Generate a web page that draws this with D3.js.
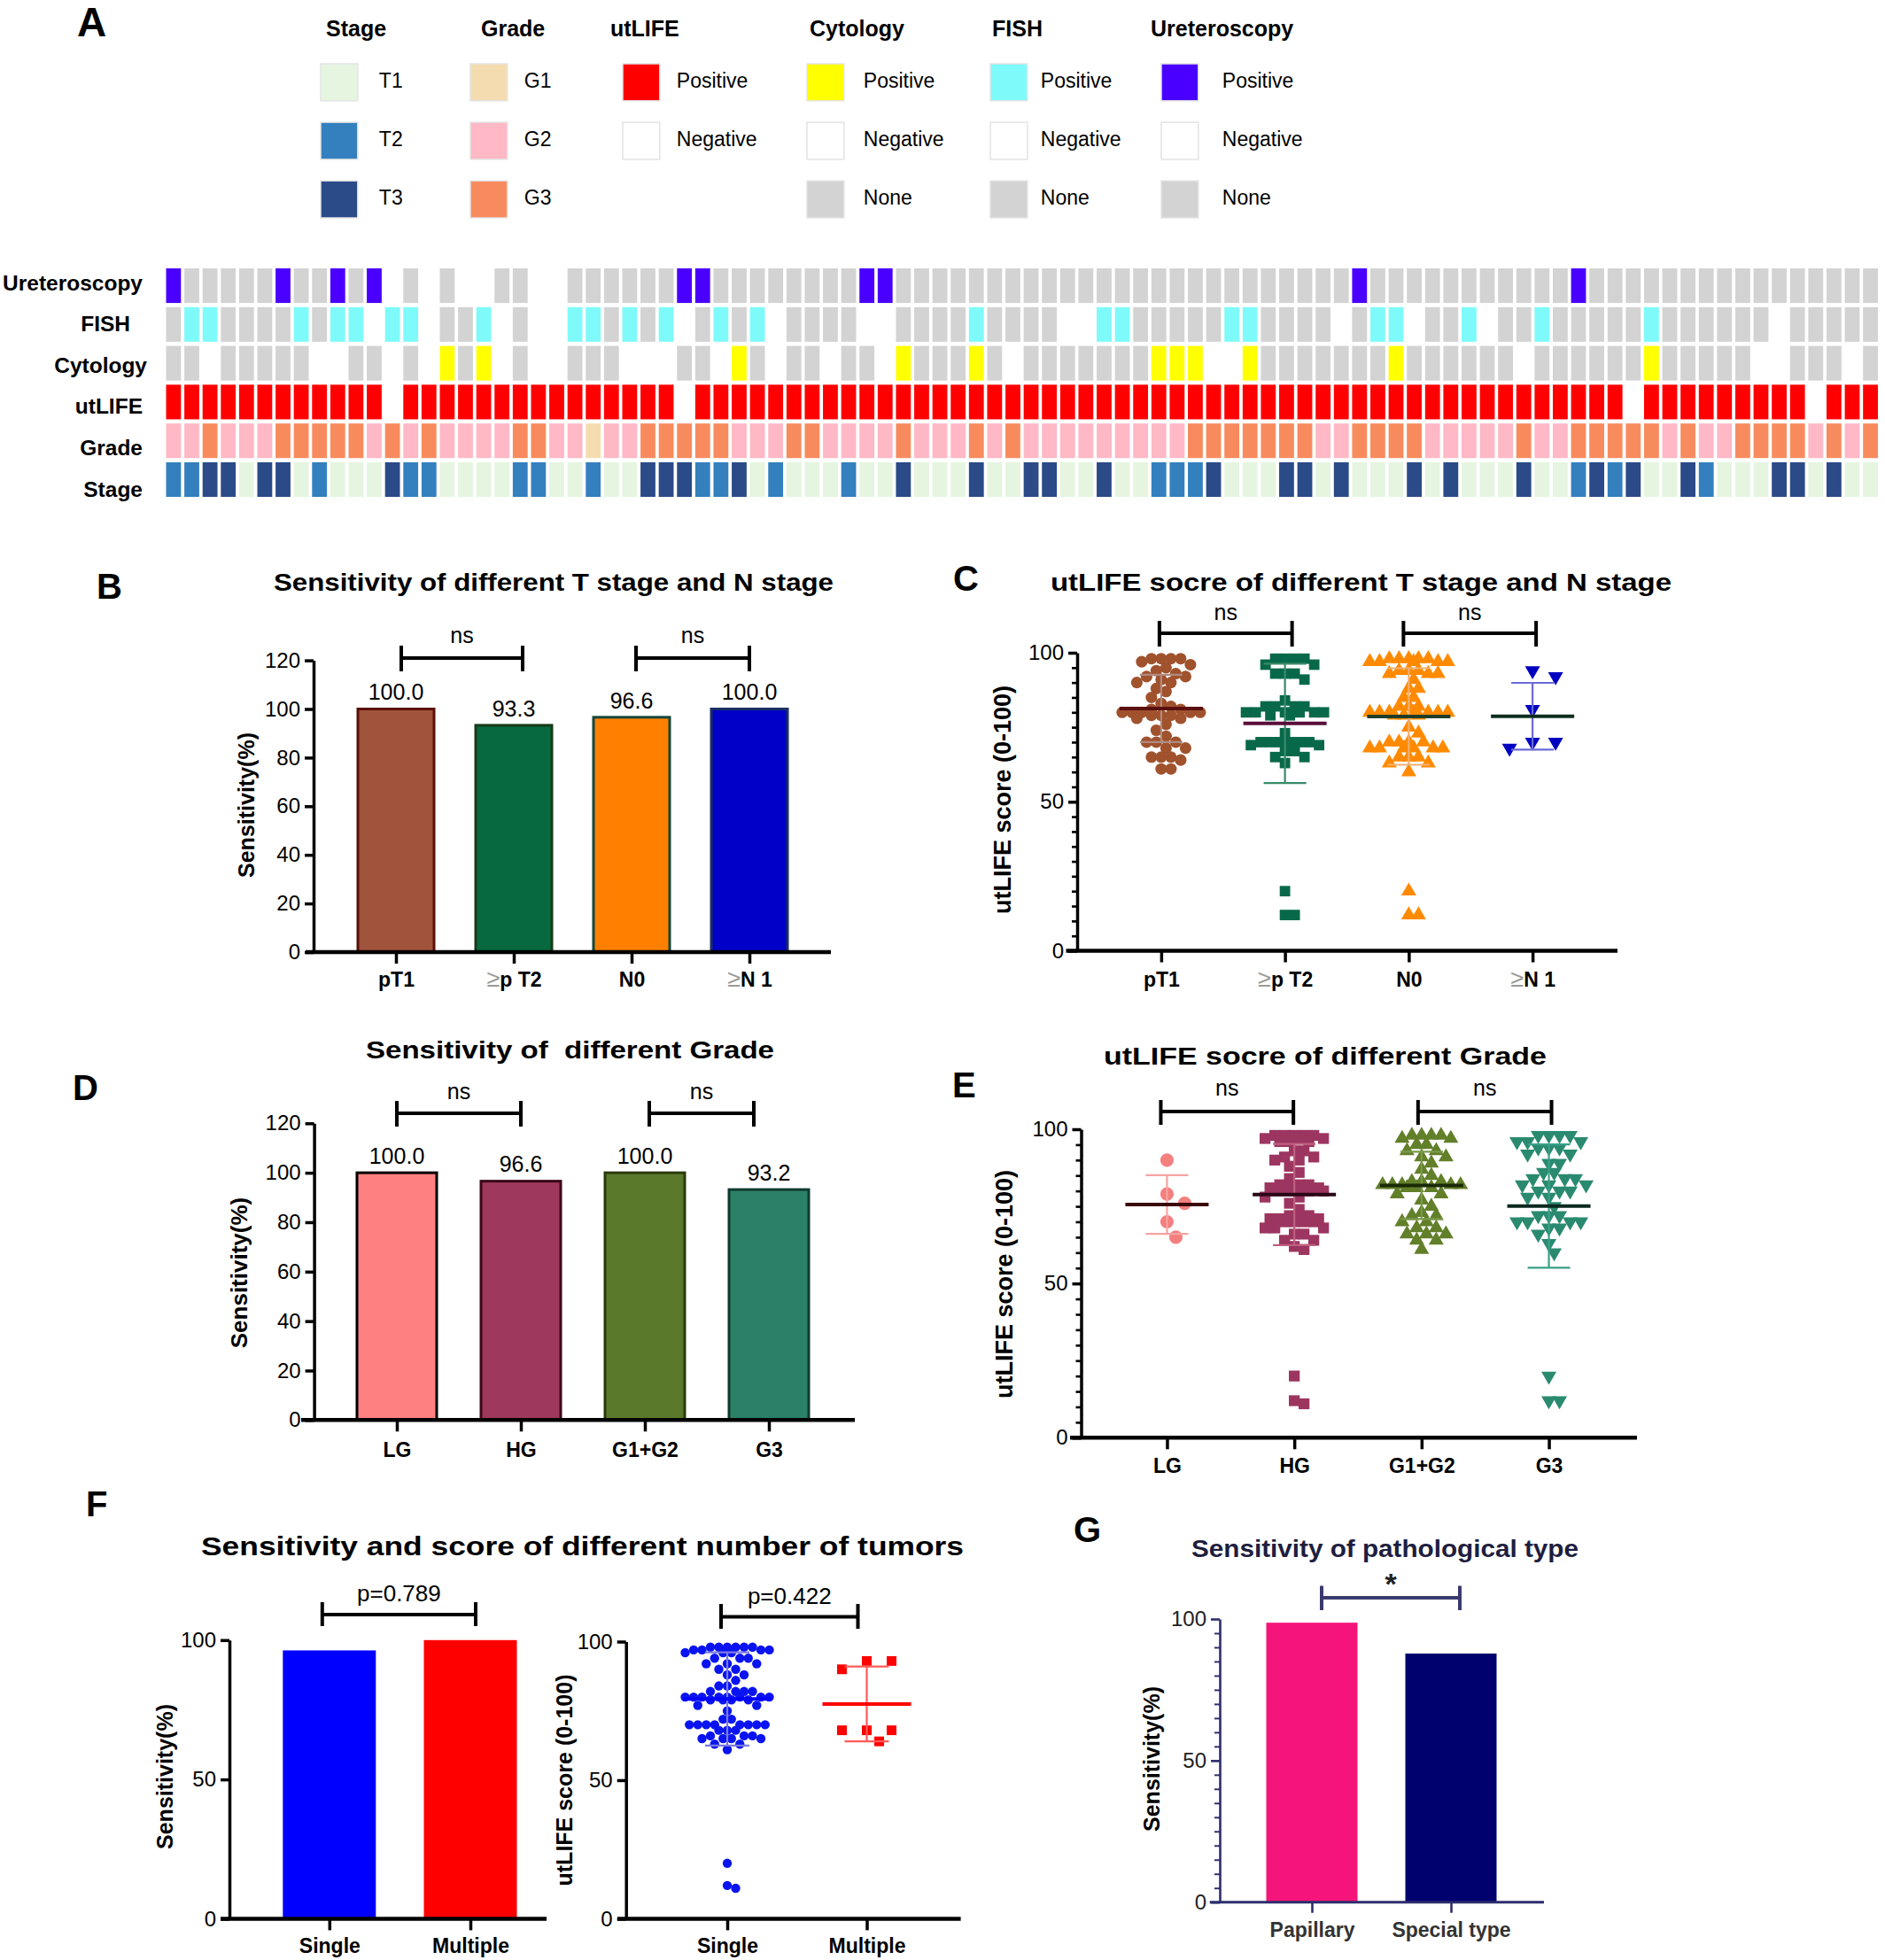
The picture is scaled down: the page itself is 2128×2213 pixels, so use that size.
<!DOCTYPE html>
<html><head><meta charset="utf-8">
<script src="https://cdn.jsdelivr.net/npm/d3@7"></script>
<style>
body{margin:0;background:#fff}
svg text{font-family:"Liberation Sans",Arial,Helvetica,sans-serif}
</style></head><body>
<svg id="chart" width="2128" height="2213"></svg>
<script>
// ================= DATA =================
// Panel A heatmap (94 patients). Codes: P positive, N negative, X none; 1/2/3 = T1..T3 / G1..G3
const heatRows = ["Ureteroscopy","FISH","Cytology","utLIFE","Grade","Stage"];
const ureteroscopyRow = "PXXXXXPXXP"+"XPNXNXNNXX"+"NNXXXXXXPP"+"XXXXXXXXPP"+"XXXXXXXXXX"+"XXXXXXXXXX"+"XXXXXPXXXX"+"XXXXXXXPXX"+"XXXXXXXXXX"+"XXXX";
const fishRow         = "XPPXXXXPXP"+"PNPPNXXPNX"+"NNPPXPXPNX"+"PXPNXXXXNN"+"XXXXPXXXXN"+"NPPXXXXXPP"+"XXXXNXPPNX"+"XPNXXPXXXX"+"XPXXXXXXNX"+"XXXX";
const cytologyRow     = "XXNXXXXXNN"+"XXNXNPXPNX"+"NNXXXNNNXX"+"NPXNXXNXXN"+"PXXXPXNXXX"+"XXXXPPPNNP"+"XXXXXXXPXX"+"XXXXNXXXXX"+"XPXXXXXNNX"+"XXNX";
const utlifeRow       = "PPPPPPPPPP"+"PPNPPPPPPP"+"PPPPPPPPNP"+"PPPPPPPPPP"+"PPPPPPPPPP"+"PPPPPPPPPP"+"PPPPPPPPPP"+"PPPPPPPPPP"+"NPPPPPPPPP"+"NPPP";
const gradeRow        = "2232223333"+"3232322223"+"3221223333"+"3222332222"+"3222323222"+"2222223333"+"3332233332"+"2222322333"+"3323223333"+"2323";
const stageRow        = "2233133121"+"1132211112"+"2112113332"+"2312111211"+"3111311331"+"1311222311"+"1331311131"+"3111311232"+"3113211133"+"1311";

const legendGroups = ["Stage","Grade","utLIFE","Cytology","FISH","Ureteroscopy"];
const legendLabels = [["T1","T2","T3"],["G1","G2","G3"],["Positive","Negative"],["Positive","Negative","None"],["Positive","Negative","None"],["Positive","Negative","None"]];
const legendCodes  = [["1","2","3"],["1","2","3"],["P","N"],["P","N","X"],["P","N","X"],["P","N","X"]];

// Panel B
const B_cats = ["pT1","≥p T2","N0","≥N 1"];
const B_sens = [100.0, 93.3, 96.6, 100.0];
// Panel C (utLIFE scores)
const C_cats = ["pT1","≥p T2","N0","≥N 1"];
const C_pT1 = [98,98,98,98,97,96,95,94,93,92,92,91,90,90,88,87,85,83,82,81,81,80,80,80,80,80,79,79,79,78,78,76,74,72,70,70,70,68,68,65,65,65,64,61,61];
const C_pT2 = [98,98,98,98,96,96,93,93,93,91,84,82,82,82,82,80,80,80,80,80,80,79,79,73,70,70,70,70,70,70,69,69,67,67,65,65,63,20,12,12];
const C_N0  = [98,98,98,98,98,97,97,97,97,97,94,94,94,93,93,93,91,88,88,85,85,82,82,82,80,80,80,80,80,80,80,79,79,79,75,73,70,70,70,70,68,68,68,68,68,68,65,65,65,63,63,60,20,12,12];
const C_N1  = [94,92,81,70,70,68];
const C_mean = [81.3, 76.3, 78.6, 78.7];
const C_sd   = [11.3, 20.0, 16.2, 11.2];
// Panel D
const D_cats = ["LG","HG","G1+G2","G3"];
const D_sens = [100.0, 96.6, 100.0, 93.2];
// Panel E
const E_cats = ["LG","HG","G1+G2","G3"];
const E_LG  = [90,79,76,70,65];
const E_HG  = [98,98,98,98,98,97,97,97,96,96,96,93,93,91,91,90,90,88,86,84,82,82,82,81,81,81,81,80,80,80,80,80,78,78,76,74,72,72,71,71,71,71,70,70,70,70,68,68,68,66,66,64,64,62,61,20,12,11];
const E_G12 = [98,98,98,98,97,97,95,95,93,93,91,91,89,87,85,83,83,83,82,82,82,82,82,81,81,81,79,79,77,75,73,72,72,70,70,68,68,66,66,66,64,64,61];
const E_G3  = [98,98,98,98,96,96,96,94,94,94,92,92,89,89,86,86,84,84,84,82,82,82,80,80,80,78,78,75,72,72,72,70,70,70,70,68,68,66,63,60,20,12,12];
const E_mean = [75.6, 78.8, 81.8, 75.1];
const E_sd   = [9.5, 16.4, 10.9, 20.0];
// Panel F
const F_cats = ["Single","Multiple"];
const F_sens = [96.3, 100.0];
const F_single = [98,98,98,98,98,98,97,97,97,97,96,96,96,94,94,94,92,92,92,90,90,88,88,86,84,84,82,82,82,82,80,80,80,80,80,80,80,80,79,79,79,79,77,77,75,72,72,70,70,70,70,70,70,70,70,68,68,68,66,66,66,65,65,65,65,63,63,61,20,12,11];
const F_multi  = [93,93,90,68,68,68,64];
const F_mean = [79.3, 77.5];
const F_sd   = [16.8, 13.5];
// Panel G
const G_cats = ["Papillary","Special type"];
const G_sens = [98.7, 87.8];

// ================= DRAWING =================
const FONT = '"Liberation Sans", Arial, Helvetica, sans-serif';
const svg = d3.select("#chart");
svg.append("rect").attr("width",2128).attr("height",2213).attr("fill","#fff");

function txt(g, x, y, s, o={}) {
  const t = g.append("text").attr("x",x).attr("y",y).attr("dy","0.35em")
    .attr("text-anchor",o.anchor||"middle").attr("font-size",o.size||24)
    .attr("font-weight",o.weight||"normal").attr("fill",o.fill||"#000")
    .attr("font-family",FONT).style("white-space","pre").text(s);
  if (o.len) t.attr("textLength",o.len).attr("lengthAdjust","spacingAndGlyphs");
  if (o.rotate) t.attr("transform",`rotate(${o.rotate},${x},${y})`);
  return t;
}

function yAxis(g, y, x0, majors, minorStep, o={}) {
  const col = o.color||"#000", sw = o.sw||3.5;
  const ax = g.append("g").attr("transform",`translate(${x0},0)`)
    .call(d3.axisLeft(y).tickValues(majors).tickSize(o.tick||10).tickSizeOuter(0).tickPadding(o.pad||5).tickFormat(d3.format("d")));
  ax.select(".domain").attr("stroke",col).attr("stroke-width",sw);
  ax.selectAll(".tick line").attr("stroke",col).attr("stroke-width",sw);
  ax.selectAll(".tick text").attr("font-size",o.fs||24).attr("fill",o.tcol||"#000").attr("font-family",FONT);
  if (minorStep) {
    const [d0,d1] = y.domain();
    const minors = d3.range(d0, d1+1e-9, minorStep).filter(v=>!majors.includes(v));
    const mx = g.append("g").attr("transform",`translate(${x0},0)`)
      .call(d3.axisLeft(y).tickValues(minors).tickSize(o.minorTick||6).tickFormat(""));
    mx.select(".domain").remove();
    mx.selectAll(".tick line").attr("stroke",col).attr("stroke-width",sw*0.75);
  }
}

function xAxis(g, x, y0, x1, x2, labelDy, o={}) {
  const col = o.color||"#000", sw=o.sw||3.5;
  g.append("line").attr("x1",x1).attr("x2",x2).attr("y1",y0).attr("y2",y0)
    .attr("stroke",col).attr("stroke-width",o.lw||4.5);
  const ax = g.append("g").attr("transform",`translate(0,${y0})`)
    .call(d3.axisBottom(x).tickSize(o.tick||13).tickSizeOuter(0));
  ax.select(".domain").remove();
  ax.selectAll(".tick line").attr("stroke",col).attr("stroke-width",sw);
  ax.selectAll(".tick text").attr("y",labelDy).attr("dy","0.35em").attr("font-size",o.fs||23)
    .attr("font-weight",o.fw||"bold").attr("fill",o.tcol||"#000").attr("font-family",FONT)
    .each(function(d){
      if (d.startsWith("≥")) {
        const s = d3.select(this); s.text(null);
        s.append("tspan").attr("fill","#9a9a9a").attr("font-weight","normal").attr("font-size",(o.fs||23)+4).text("≥");
        s.append("tspan").text(d.slice(1));
      }
    });
}

function bracket(g, xa, xb, yl, yt, yb, label, ly, o={}) {
  const col=o.color||"#000";
  g.append("path").attr("d",`M${xa},${yt}V${yb}M${xa},${yl}H${xb}M${xb},${yt}V${yb}`)
    .attr("fill","none").attr("stroke",col).attr("stroke-width",o.sw||4);
  txt(g,(xa+xb)/2+(o.ldx||0),ly,label,{size:o.fs||25,fill:o.tcol||"#000",weight:o.fw||"normal"});
}

// column-scatter layout: spread equal-ish values sideways, capped at maxHalf
function swarm(values, y, cx, spacing, maxHalf) {
  const pts = values.map(v=>({v, y:y(v)})).sort((a,b)=>a.y-b.y);
  const placed = [];
  const h = spacing/2;
  const cands = [0];
  for (let k=1; k*h<=maxHalf; k++) cands.push(k*h, -k*h);
  for (const p of pts) {
    let best = null, bestD = -1;
    for (const dx of cands) {
      const x = cx+dx;
      let dmin = Infinity;
      for (const q of placed) { const d = Math.hypot(q.x-x, q.y-p.y); if (d<dmin) dmin=d; }
      if (dmin >= spacing) { best = x; break; }
      if (dmin > bestD + 0.5) { bestD = dmin; best = x; }
    }
    p.x = best;
    placed.push(p);
  }
  return placed;
}

function scatter(g, cats, groups, x, y, st, means, sds, o) {
  cats.forEach((c,i)=>{
    const s = st[i], cx = x(c);
    const pts = swarm(groups[i], y, cx, s.sp, s.max);
    const sym = d3.symbol().type(s.shape).size(s.area);
    g.append("g").selectAll("path").data(pts).join("path")
      .attr("d", sym)
      .attr("transform", d=>`translate(${d.x},${d.y})${s.down?" rotate(180)":""}`)
      .attr("fill", s.color);
    const m = means[i], sd = sds[i];
    g.append("path")
      .attr("d",`M${cx},${y(m+sd)}V${y(m-sd)}M${cx-o.cap},${y(m+sd)}H${cx+o.cap}M${cx-o.cap},${y(m-sd)}H${cx+o.cap}`)
      .attr("stroke",s.sd).attr("stroke-width",2.2).attr("fill","none");
    g.append("line").attr("x1",cx-o.half).attr("x2",cx+o.half).attr("y1",y(m)).attr("y2",y(m))
      .attr("stroke",s.mean).attr("stroke-width",4);
  });
}

// ---------- Panel letters ----------
[["A",87,25,46],["B",109,662,40],["C",1076,653,40],["D",82,1228,40],["E",1075,1225,40],["F",97,1698,40],["G",1212,1727,40]]
  .forEach(([l,x,y,s])=>txt(svg,x,y,l,{size:s,weight:"bold",anchor:"start"}));

// ---------- Panel A ----------
const gA = svg.append("g");
const rowCodes = {Ureteroscopy:ureteroscopyRow, FISH:fishRow, Cytology:cytologyRow, utLIFE:utlifeRow, Grade:gradeRow, Stage:stageRow};
const rowColors = {
  Stage:{"1":"#e5f5e0","2":"#3480bf","3":"#2b4a88"},
  Grade:{"1":"#f5dcb0","2":"#ffb8c5","3":"#f88b5e"},
  utLIFE:{"P":"#ff0000","N":"#ffffff"},
  Cytology:{"P":"#ffff00","N":"#ffffff","X":"#d3d3d3"},
  FISH:{"P":"#7ffafa","N":"#ffffff","X":"#d3d3d3"},
  Ureteroscopy:{"P":"#4a00ff","N":"#ffffff","X":"#d3d3d3"}
};
const nCols = stageRow.length;
const xCol = d3.scaleBand().domain(d3.range(nCols)).range([187.5,2120]).paddingInner(0.184);
const yRow = d3.scaleBand().domain(heatRows).range([303,561]).paddingInner(0.1075);
const yRowLabel = d3.scalePoint().domain(heatRows).range([319,552]);
const rowLabelDx = {Ureteroscopy:0, FISH:-14, Cytology:5, utLIFE:0, Grade:0, Stage:0};
heatRows.forEach(r=>{
  const codes = rowCodes[r].split("");
  gA.append("g").selectAll("rect").data(codes).join("rect")
    .attr("x",(d,i)=>xCol(i)).attr("width",xCol.bandwidth())
    .attr("y",yRow(r)).attr("height",yRow.bandwidth())
    .attr("fill",d=>rowColors[r][d]);
  txt(gA,161+rowLabelDx[r],yRowLabel(r),r,{size:24.5,weight:"bold",anchor:"end"});
});
// legend
const legSwatchX = [362,531,703,911,1118,1311];
const legHeaderX = [368,543,689,914,1120,1299];
const legGap = [24,19,19,22,15,27];
const yLeg = d3.scaleBand().domain([0,1,2]).range([72,246]).paddingInner(0.367);
legendGroups.forEach((grp,gi)=>{
  txt(gA,legHeaderX[gi],32,grp,{size:25,weight:"bold",anchor:"start"});
  legendLabels[gi].forEach((lab,li)=>{
    const code = legendCodes[gi][li];
    gA.append("rect").attr("x",legSwatchX[gi]).attr("y",yLeg(li))
      .attr("width",yLeg.bandwidth()).attr("height",yLeg.bandwidth())
      .attr("fill",rowColors[grp][code]).attr("stroke","#e4e4e4").attr("stroke-width",1.5);
    txt(gA,legSwatchX[gi]+yLeg.bandwidth()+legGap[gi],yLeg(li)+yLeg.bandwidth()/2-2,lab,{size:23,anchor:"start"});
  });
});

// ---------- Panel B ----------
const gB = svg.append("g");
const yB = d3.scaleLinear().domain([0,120]).range([1075,745.6]);
const xB = d3.scalePoint().domain(B_cats).range([380.5,912.5]).padding(0.5);
const B_fill = ["#a0543c","#07693f","#ff8000","#0000c8"];
const B_stroke = ["#5a1008","#173a17","#15463a","#1a3060"];
gB.append("g").selectAll("rect").data(B_cats).join("rect")
  .attr("x",c=>xB(c)-43).attr("width",86)
  .attr("y",(c,i)=>yB(B_sens[i])).attr("height",(c,i)=>yB(0)-yB(B_sens[i]))
  .attr("fill",(c,i)=>B_fill[i]).attr("stroke",(c,i)=>B_stroke[i]).attr("stroke-width",3);
B_cats.forEach((c,i)=>txt(gB,xB(c),yB(B_sens[i])-19,d3.format(".1f")(B_sens[i]),{size:25}));
yAxis(gB,yB,354,d3.range(0,121,20),null,{tick:10});
xAxis(gB,xB,yB(0),345,938,31);
bracket(gB,xB(B_cats[0])+6,xB(B_cats[1])+10,743,729,758,"ns",717);
bracket(gB,xB(B_cats[2])+5,xB(B_cats[3]),743,729,758,"ns",717);
txt(gB,625,657,"Sensitivity of different T stage and N stage",{size:28,weight:"bold",len:632});
txt(gB,278,909,"Sensitivity(%)",{size:25,weight:"bold",rotate:-90});

// ---------- Panel C ----------
const gC = svg.append("g");
const yC = d3.scaleLinear().domain([0,100]).range([1073.5,737]);
const xC = d3.scalePoint().domain(C_cats).range([1241,1800]).padding(0.5);
scatter(gC,C_cats,[C_pT1,C_pT2,C_N0,C_N1],xC,yC,[
  {shape:d3.symbolCircle,area:135,sp:11,max:44,color:"#a0522d",mean:"#5a1010",sd:"#b08a80"},
  {shape:d3.symbolSquare,area:140,sp:11,max:44,color:"#08694a",mean:"#5a0e3a",sd:"#3a8a6a"},
  {shape:d3.symbolTriangle,area:125,sp:11,max:44,color:"#ff8a00",mean:"#1e3e2a",sd:"#f0b070"},
  {shape:d3.symbolTriangle,area:125,sp:26,max:26,color:"#0000c0",mean:"#0e2e1e",sd:"#6a6ad8",down:true}
],C_mean,C_sd,{half:47,cap:24});
yAxis(gC,yC,1216,[0,50,100],5,{tick:10,minorTick:6});
xAxis(gC,xC,yC(0),1203.5,1826,32);
bracket(gC,xC(C_cats[0])-2,xC(C_cats[1])+8,715,701,730,"ns",691);
bracket(gC,xC(C_cats[2])-6,xC(C_cats[3])+4,715,701,730,"ns",691);
txt(gC,1536.5,657,"utLIFE socre of different T stage and N stage",{size:28,weight:"bold",len:701});
txt(gC,1132,903,"utLIFE score (0-100)",{size:27,weight:"bold",rotate:-90});

// ---------- Panel D ----------
const gD = svg.append("g");
const yD = d3.scaleLinear().domain([0,120]).range([1603.3,1268.3]);
const xD = d3.scalePoint().domain(D_cats).range([378,938]).padding(0.5);
const D_fill = ["#ff8080","#9e385c","#5b792b","#2b8068"];
const D_stroke = ["#000000","#3a0818","#2a3a0a","#0e3a2e"];
gD.append("g").selectAll("rect").data(D_cats).join("rect")
  .attr("x",c=>xD(c)-45).attr("width",90)
  .attr("y",(c,i)=>yD(D_sens[i])).attr("height",(c,i)=>yD(0)-yD(D_sens[i]))
  .attr("fill",(c,i)=>D_fill[i]).attr("stroke",(c,i)=>D_stroke[i]).attr("stroke-width",3);
D_cats.forEach((c,i)=>txt(gD,xD(c),yD(D_sens[i])-19,d3.format(".1f")(D_sens[i]),{size:25}));
yAxis(gD,yD,354.6,d3.range(0,121,20),null,{tick:10});
xAxis(gD,xD,yD(0),340,965,34);
bracket(gD,xD(D_cats[0]),xD(D_cats[1]),1257,1243,1272,"ns",1232);
bracket(gD,xD(D_cats[2])+5,xD(D_cats[3])-17,1257,1243,1272,"ns",1232);
txt(gD,643.5,1185,"Sensitivity of  different Grade",{size:28,weight:"bold",len:461});
txt(gD,269.5,1437,"Sensitivity(%)",{size:26,weight:"bold",rotate:-90});

// ---------- Panel E ----------
const gE = svg.append("g");
const yE = d3.scaleLinear().domain([0,100]).range([1623.3,1275]);
const xE = d3.scalePoint().domain(E_cats).range([1245.6,1820.4]).padding(0.5);
scatter(gE,E_cats,[E_LG,E_HG,E_G12,E_G3],xE,yE,[
  {shape:d3.symbolCircle,area:180,sp:20,max:20,color:"#f47f7f",mean:"#3a0808",sd:"#f4a4a4"},
  {shape:d3.symbolSquare,area:150,sp:11,max:36,color:"#9c3560",mean:"#2a0818",sd:"#c06080"},
  {shape:d3.symbolTriangle,area:125,sp:11,max:44,color:"#627f2a",mean:"#1a2a08",sd:"#7a9a4a"},
  {shape:d3.symbolTriangle,area:125,sp:12,max:44,color:"#2a8a70",mean:"#0a2a20",sd:"#3aa088",down:true}
],E_mean,E_sd,{half:47,cap:24});
yAxis(gE,yE,1220.5,[0,50,100],5,{tick:10,minorTick:6});
xAxis(gE,xE,yE(0),1208,1848,32);
bracket(gE,xE(E_cats[0])-7,xE(E_cats[1])-1,1255,1242,1270,"ns",1228);
bracket(gE,xE(E_cats[2])-4,xE(E_cats[3])+3,1255,1242,1270,"ns",1228);
txt(gE,1496,1192,"utLIFE socre of different Grade",{size:28,weight:"bold",len:500});
txt(gE,1134,1450,"utLIFE score (0-100)",{size:27,weight:"bold",rotate:-90});

// ---------- Panel F ----------
const gF = svg.append("g");
txt(gF,657.5,1745,"Sensitivity and score of different number of tumors",{size:30,weight:"bold",len:861});
const yF1 = d3.scaleLinear().domain([0,100]).range([2166.4,1851.8]);
const xF1 = d3.scalePoint().domain(F_cats).range([292.2,610.6]).padding(0.5);
const F_fill = ["#0000ff","#ff0000"];
gF.append("g").selectAll("rect").data(F_cats).join("rect")
  .attr("x",c=>xF1(c)-52.5).attr("width",105)
  .attr("y",(c,i)=>yF1(F_sens[i])).attr("height",(c,i)=>yF1(0)-yF1(F_sens[i]))
  .attr("fill",(c,i)=>F_fill[i]);
yAxis(gF,yF1,259,[0,50,100],null,{tick:10});
xAxis(gF,xF1,yF1(0),249,617,31);
bracket(gF,xF1(F_cats[0])-8,xF1(F_cats[1])+6,1823,1809,1836,"p=0.789",1799,{fs:26});
txt(gF,186,2006,"Sensitivity(%)",{size:25,weight:"bold",rotate:-90});

const yF2 = d3.scaleLinear().domain([0,100]).range([2166.4,1853.5]);
const xF2 = d3.scalePoint().domain(F_cats).range([742.25,1057.25]).padding(0.5);
scatter(gF,F_cats,[F_single,F_multi],xF2,yF2,[
  {shape:d3.symbolCircle,area:85,sp:9.5,max:50,color:"#0a14f0",mean:"#0000ff",sd:"#7a7ae0"},
  {shape:d3.symbolSquare,area:120,sp:28,max:28,color:"#ff0000",mean:"#ff0000",sd:"#ff5a5a"}
],F_mean,F_sd,{half:50,cap:25});
yAxis(gF,yF2,706.7,[0,50,100],null,{tick:10});
xAxis(gF,xF2,yF2(0),697,1084.6,31);
bracket(gF,xF2(F_cats[0])-7,xF2(F_cats[1])-10,1825.6,1811,1839,"p=0.422",1802,{fs:26});
txt(gF,637,2010,"utLIFE score (0-100)",{size:25,weight:"bold",rotate:-90});

// ---------- Panel G ----------
const gG = svg.append("g");
const navy = "#2d2d6e";
const yG = d3.scaleLinear().domain([0,100]).range([2147.7,1828]);
const xG = d3.scalePoint().domain(G_cats).range([1402.5,1716.5]).padding(0.5);
const G_fill = ["#f5157a","#00006e"];
gG.append("g").selectAll("rect").data(G_cats).join("rect")
  .attr("x",c=>xG(c)-51.5).attr("width",103)
  .attr("y",(c,i)=>yG(G_sens[i])).attr("height",(c,i)=>yG(0)-yG(G_sens[i]))
  .attr("fill",(c,i)=>G_fill[i]);
yAxis(gG,yG,1377,[0,50,100],5,{color:navy,sw:2.6,tick:10,minorTick:6,tcol:"#222"});
xAxis(gG,xG,yG(0),1365.7,1743,31,{color:navy,sw:2.6,lw:3,tick:12,tcol:"#333"});
bracket(gG,xG(G_cats[0])+11,xG(G_cats[1])+10,1804,1790.5,1818,"*",1788,{color:"#3a3a70",fs:34,tcol:"#222",fw:"bold"});
txt(gG,1563.5,1749,"Sensitivity of pathological type",{size:27,weight:"bold",len:437,fill:"#1e1e40"});
txt(gG,1300,1986,"Sensitivity(%)",{size:25,weight:"bold",rotate:-90});
</script>
</body></html>
